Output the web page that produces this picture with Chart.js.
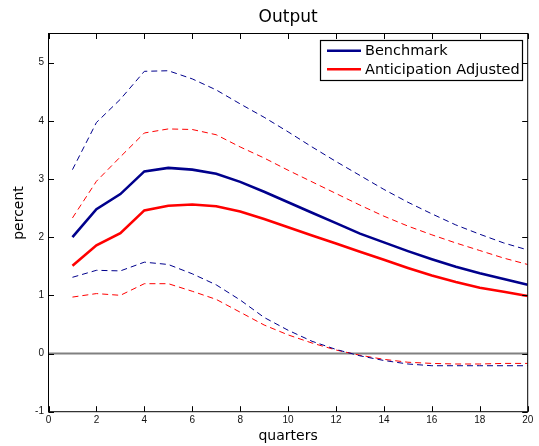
<!DOCTYPE html>
<html>
<head>
<meta charset="utf-8">
<script src="https://cdn.jsdelivr.net/npm/chart.js@4/dist/chart.umd.min.js"></script>
<style>
  html,body{margin:0;padding:0;background:#fff;}
  canvas{display:block;}
</style>
</head>
<body>
<canvas id="chart" width="539" height="446"></canvas>
<script>
// Daten
const quarters = [1,2,3,4,5,6,7,8,9,10,11,12,13,14,15,16,17,18,19,20];
const benchmark    = [2.00,2.48,2.74,3.13,3.19,3.16,3.09,2.95,2.78,2.60,2.42,2.24,2.06,1.91,1.76,1.62,1.49,1.38,1.28,1.18];
const benchUpper   = [3.16,3.97,4.37,4.85,4.86,4.72,4.53,4.29,4.06,3.81,3.55,3.30,3.06,2.82,2.60,2.40,2.21,2.05,1.90,1.78];
const benchLower   = [1.31,1.43,1.42,1.57,1.53,1.37,1.18,0.92,0.62,0.40,0.21,0.07,-0.04,-0.12,-0.18,-0.21,-0.21,-0.21,-0.21,-0.21];
const anticip      = [1.51,1.86,2.07,2.46,2.54,2.56,2.53,2.44,2.31,2.17,2.03,1.89,1.75,1.61,1.47,1.34,1.23,1.13,1.06,0.99];
const anticipUpper = [2.33,2.96,3.38,3.79,3.86,3.85,3.76,3.55,3.36,3.15,2.95,2.75,2.55,2.36,2.19,2.04,1.90,1.77,1.64,1.53];
const anticipLower = [0.97,1.03,1.00,1.20,1.20,1.07,0.93,0.71,0.49,0.32,0.18,0.06,-0.03,-0.10,-0.15,-0.17,-0.18,-0.18,-0.17,-0.17];
const zeroX = [0,20];
const zeroY = [0,0];
const xTicks = [0,2,4,6,8,10,12,14,16,18,20];
const yTicks = [-1,0,1,2,3,4,5];
const titleText = "Output";
const xLabel = "quarters";
const yLabel = "percent";
const labels = ["Benchmark","Anticipation Adjusted"];

const BLUE = "#00008c";
const RED = "#ff0000";
const LABEL_FONT = "'DejaVu Sans', sans-serif";
const TICK_FONT = {family:"'Liberation Sans', Arial, sans-serif",size:10};

const pts = (xs,ys)=>xs.map((x,i)=>({x,y:ys[i]}));

// Rahmen, Ticks nach innen, Titel, Achsentitel, Legende
const decor = {
  id:"decor",
  afterDraw(chart){
    const {ctx, chartArea:a, scales:{x,y}} = chart;
    ctx.save();
    ctx.strokeStyle = "#000";
    ctx.lineWidth = 1;
    ctx.strokeRect(a.left, a.top, a.right-a.left, a.bottom-a.top);
    const tl = 5.5;
    ctx.beginPath();
    xTicks.forEach(v=>{
      const px = Math.round(x.getPixelForValue(v))+0.5;
      ctx.moveTo(px,a.bottom); ctx.lineTo(px,a.bottom-tl);
      ctx.moveTo(px,a.top); ctx.lineTo(px,a.top+tl);
    });
    yTicks.forEach(v=>{
      const py = Math.round(y.getPixelForValue(v))+0.5;
      ctx.moveTo(a.left,py); ctx.lineTo(a.left+tl,py);
      ctx.moveTo(a.right,py); ctx.lineTo(a.right-tl,py);
    });
    ctx.stroke();

    // Titel
    ctx.fillStyle = "#000";
    ctx.textAlign = "center";
    ctx.textBaseline = "middle";
    ctx.font = "17px " + LABEL_FONT;
    ctx.fillText(titleText, (a.left+a.right)/2, 18);
    ctx.font = "14px " + LABEL_FONT;
    ctx.fillText(xLabel, (a.left+a.right)/2, 436);
    ctx.save();
    ctx.translate(19, 213);
    ctx.rotate(-Math.PI/2);
    ctx.fillText(yLabel, 0, 0);
    ctx.restore();

    // Legende
    const lx = 320, ly = 40, lw = 202, lh = 40;
    ctx.fillStyle = "#fff";
    ctx.fillRect(lx, ly, lw, lh);
    ctx.strokeStyle = "#000";
    ctx.lineWidth = 1.2;
    ctx.strokeRect(lx+0.5, ly+0.5, lw, lh);
    const cols = [BLUE, RED];
    const rows = [50.7, 69.3];
    ctx.font = "14.5px " + LABEL_FONT;
    ctx.textAlign = "left";
    labels.forEach((t,i)=>{
      ctx.strokeStyle = cols[i];
      ctx.lineWidth = 2.5;
      ctx.beginPath();
      ctx.moveTo(327, rows[i]); ctx.lineTo(361, rows[i]);
      ctx.stroke();
      ctx.fillStyle = "#000";
      ctx.fillText(t, 365, rows[i]+0.5);
    });
    ctx.restore();
  }
};

const solid = (data,color,label)=>({label,data,borderColor:color,borderWidth:2.6,pointRadius:0,fill:false,tension:0,order:1});
const dashed = (data,color)=>({data,borderColor:color,borderWidth:1,borderDash:[6,4],pointRadius:0,fill:false,tension:0,order:2});

new Chart(document.getElementById("chart"),{
  type:"line",
  data:{
    datasets:[
      {data:pts(zeroX,zeroY),borderColor:"#808080",borderWidth:2,pointRadius:0,order:10},
      dashed(pts(quarters,benchUpper),BLUE),
      dashed(pts(quarters,benchLower),BLUE),
      dashed(pts(quarters,anticipUpper),RED),
      dashed(pts(quarters,anticipLower),RED),
      solid(pts(quarters,anticip),RED,labels[1]),
      solid(pts(quarters,benchmark),BLUE,labels[0])
    ]
  },
  options:{
    responsive:false,
    animation:false,
    devicePixelRatio:1,
    layout:{padding:{top:33.5,right:11.3,left:0,bottom:0}},
    plugins:{legend:{display:false},tooltip:{enabled:false}},
    scales:{
      x:{
        type:"linear",min:0,max:20,
        afterBuildTicks:s=>{s.ticks = xTicks.map(v=>({value:v}));},
        afterFit:s=>{s.height = 34.3;},
        ticks:{padding:3,maxRotation:0,autoSkip:false,color:"#111",font:TICK_FONT},
        grid:{display:false,drawTicks:false},
        border:{display:false}
      },
      y:{
        min:-1,max:5.5,
        afterBuildTicks:s=>{s.ticks = yTicks.map(v=>({value:v}));},
        afterFit:s=>{s.width = 48.5;},
        ticks:{padding:4.5,autoSkip:false,color:"#111",font:TICK_FONT},
        grid:{display:false,drawTicks:false},
        border:{display:false}
      }
    }
  },
  plugins:[decor]
});
</script>
</body>
</html>
